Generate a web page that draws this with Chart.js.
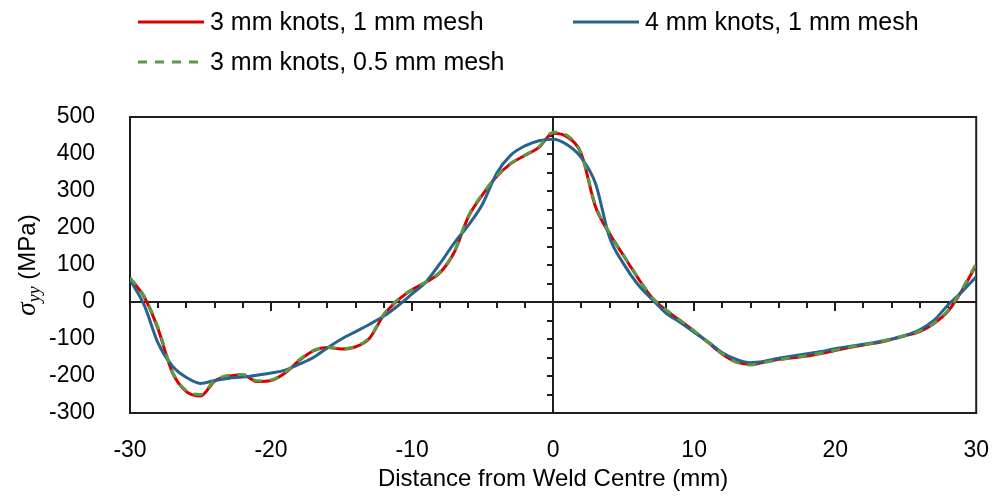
<!DOCTYPE html>
<html>
<head>
<meta charset="utf-8">
<script src="https://cdn.jsdelivr.net/npm/chart.js@4/dist/chart.umd.min.js"></script>
<style>
  html, body { margin: 0; padding: 0; background: #fff; }
  #wrap { width: 1005px; height: 502px; }
</style>
</head>
<body>
<div id="wrap"><canvas id="stressChart" width="1005" height="502"></canvas></div>
<script>
// Transverse stress along the weld centre line
const distance = [-30, -29, -28, -27, -26, -25, -24, -23, -22, -21, -20, -19, -18, -17, -16, -15,
  -14, -13, -12, -11, -10, -9, -8, -7, -6, -5, -4, -3, -2, -1, 0, 1, 2, 3, 4, 5, 6, 7, 8, 9, 10,
  11, 12, 13, 14, 15, 16, 17, 18, 19, 20, 21, 22, 23, 24, 25, 26, 27, 28, 29, 30];

const knots3Mesh1 = [64, 14, -74, -190, -242, -254, -214, -200, -197, -215, -212, -192, -158, -132, -123, -127,
  -121, -97, -35, 5, 33, 54, 80, 135, 231, 290, 339, 374, 396, 418, 456, 446, 400, 258, 185, 125, 66, 12, -22, -50, -79,
  -110, -141, -162, -169, -162, -155, -151, -146, -139, -131, -123, -116, -110, -101, -91, -80, -58, -25, 32, 100];

const knots4Mesh1 = [60, -8, -112, -173, -204, -220, -212, -206, -203, -198, -192, -184, -168, -150, -124, -100,
  -80, -60, -38, -10, 22, 55, 105, 160, 208, 265, 348, 397, 422, 436, 440, 425, 390, 321, 175, 103, 48, 8, -30, -55, -82,
  -108, -137, -155, -164, -160, -152, -146, -140, -134, -126, -120, -114, -108, -100, -90, -75, -50, -8, 28, 68];

const knots3Mesh05 = [66, 16, -70, -188, -240, -250, -212, -198, -196, -213, -211, -190, -156, -131, -122, -126,
  -120, -95, -33, 7, 34, 55, 82, 137, 233, 292, 340, 375, 397, 420, 459, 450, 402, 262, 187, 126, 67, 13, -21, -49, -78,
  -109, -140, -163, -170, -163, -156, -150, -145, -138, -130, -122, -115, -109, -100, -90, -79, -57, -23, 35, 104];

const seriesLabels = ['3 mm knots, 1 mm mesh', '4 mm knots, 1 mm mesh', '3 mm knots, 0.5 mm mesh'];
const xTickValues = [-30, -20, -10, 0, 10, 20, 30];
const yTickValues = [-300, -200, -100, 0, 100, 200, 300, 400, 500];

const RED = '#d90000';
const BLUE = '#26648c';
const GREEN = '#5a9a44';
const tickFont = { family: '"Liberation Sans", Arial, sans-serif', size: 23 };
const titleFont = { family: '"Liberation Sans", Arial, sans-serif', size: 24 };

function points(ys) {
  return distance.map((d, i) => ({ x: d, y: ys[i] }));
}

// axes crossing at zero, with their small ticks, plus the plot frame
const crossAxes = {
  id: 'crossAxes',
  beforeDatasetsDraw(chart) {
    const ctx = chart.ctx;
    const a = chart.chartArea;
    const xs = chart.scales.x, ys = chart.scales.y;
    const y0 = Math.round(ys.getPixelForValue(0));
    const x0 = Math.round(xs.getPixelForValue(0));
    ctx.save();
    ctx.strokeStyle = '#1e1e1e';
    ctx.lineWidth = 2;
    ctx.strokeRect(a.left, a.top, a.right - a.left, a.bottom - a.top);
    ctx.beginPath();
    ctx.moveTo(a.left, y0); ctx.lineTo(a.right, y0);
    ctx.moveTo(x0, a.top); ctx.lineTo(x0, a.bottom);
    for (let v = -28; v <= 28; v += 2) {
      if (v === 0) continue;
      const px = Math.round(xs.getPixelForValue(v));
      ctx.moveTo(px, y0);
      ctx.lineTo(px, y0 + (v % 10 === 0 ? 9 : 6));
    }
    for (let v = -250; v <= 450; v += 50) {
      if (v === 0) continue;
      const py = Math.round(ys.getPixelForValue(v));
      ctx.moveTo(x0 - 6, py);
      ctx.lineTo(x0, py);
    }
    ctx.stroke();
    ctx.restore();
  }
};

// legend in two columns and the sigma_yy axis title
const legendAndTitle = {
  id: 'legendAndTitle',
  afterDraw(chart) {
    const ctx = chart.ctx;
    const a = chart.chartArea;
    const slots = [
      { x: 138, y: 22 },
      { x: 573, y: 22 },
      { x: 138, y: 62 }
    ];
    ctx.save();
    ctx.font = '25px "Liberation Sans", Arial, sans-serif';
    ctx.textBaseline = 'middle';
    ctx.fillStyle = '#000';
    chart.data.datasets.forEach((ds, i) => {
      const s = slots[i];
      ctx.strokeStyle = ds.borderColor;
      ctx.lineWidth = 3;
      ctx.setLineDash(ds.borderDash || []);
      ctx.beginPath();
      ctx.moveTo(s.x, s.y);
      ctx.lineTo(s.x + 66, s.y);
      ctx.stroke();
      ctx.setLineDash([]);
      ctx.fillText(ds.label, s.x + 72, s.y + 1);
    });

    // y title: italic sigma with yy subscript, then (MPa)
    ctx.translate(27, (a.top + a.bottom) / 2);
    ctx.rotate(-Math.PI / 2);
    const sigFont = 'italic 27px "Liberation Serif", "Times New Roman", serif';
    const subFont = 'italic 18px "Liberation Serif", "Times New Roman", serif';
    const unitFont = '24px "Liberation Sans", Arial, sans-serif';
    ctx.font = sigFont; const wS = ctx.measureText('σ').width;
    ctx.font = subFont; const wY = ctx.measureText('yy').width;
    ctx.font = unitFont; const wU = ctx.measureText(' (MPa)').width;
    let x = -(wS + wY + wU) / 2;
    ctx.textBaseline = 'alphabetic';
    ctx.font = sigFont; ctx.fillText('σ', x, 8); x += wS;
    ctx.font = subFont; ctx.fillText('yy', x, 13); x += wY;
    ctx.font = unitFont; ctx.fillText(' (MPa)', x, 8);
    ctx.restore();
  }
};

const chart = new Chart(document.getElementById('stressChart'), {
  type: 'line',
  data: {
    datasets: [
      {
        label: seriesLabels[0],
        data: points(knots3Mesh1),
        borderColor: RED,
        borderWidth: 3,
        pointRadius: 0,
        cubicInterpolationMode: 'monotone',
        order: 3
      },
      {
        label: seriesLabels[1],
        data: points(knots4Mesh1),
        borderColor: BLUE,
        borderWidth: 3,
        pointRadius: 0,
        cubicInterpolationMode: 'monotone',
        order: 2
      },
      {
        label: seriesLabels[2],
        data: points(knots3Mesh05),
        borderColor: GREEN,
        borderWidth: 3,
        borderDash: [9, 8],
        pointRadius: 0,
        cubicInterpolationMode: 'monotone',
        order: 1
      }
    ]
  },
  options: {
    responsive: false,
    animation: false,
    layout: { padding: { top: 117, right: 21, left: 0, bottom: 0 } },
    plugins: {
      legend: { display: false },
      tooltip: { enabled: false }
    },
    scales: {
      x: {
        type: 'linear',
        min: -30,
        max: 30,
        afterBuildTicks: s => { s.ticks = xTickValues.map(v => ({ value: v })); },
        afterFit: s => { s.height = 89; },
        ticks: { font: tickFont, color: '#000', padding: 16, maxRotation: 0 },
        grid: { display: false },
        border: { display: false },
        title: {
          display: true,
          text: 'Distance from Weld Centre (mm)',
          font: titleFont,
          color: '#000',
          padding: { top: 0, bottom: 8 }
        }
      },
      y: {
        min: -300,
        max: 500,
        afterBuildTicks: s => { s.ticks = yTickValues.map(v => ({ value: v })); },
        afterFit: s => { s.width = 130; },
        ticks: { font: tickFont, color: '#000', padding: 27 },
        grid: { display: false },
        border: { display: false }
      }
    }
  },
  plugins: [crossAxes, legendAndTitle]
});
</script>
</body>
</html>
